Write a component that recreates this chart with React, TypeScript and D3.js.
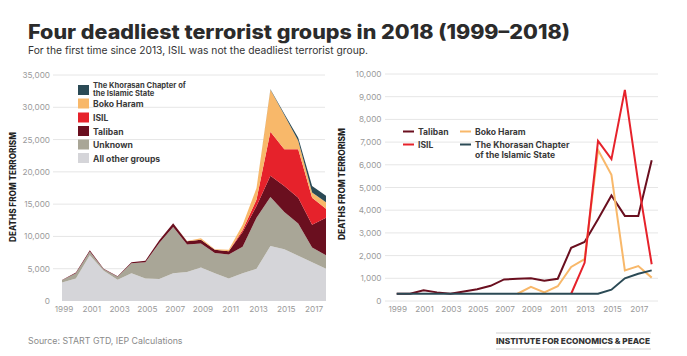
import React from 'react';
import * as d3 from 'd3';

const years = [1999, 2000, 2001, 2002, 2003, 2004, 2005, 2006, 2007, 2008, 2009, 2010, 2011, 2012, 2013, 2014, 2015, 2016, 2017, 2018];
const xTickYears = [1999, 2001, 2003, 2005, 2007, 2009, 2011, 2013, 2015, 2017];

// Left: stacked deaths by group
const allOtherL = [2850, 3500, 7100, 4700, 3300, 4300, 3500, 3400, 4300, 4500, 5200, 4300, 3500, 4300, 5000, 8500, 8000, 7000, 6000, 5000];
const unknownL = [350, 800, 550, 200, 450, 1550, 2500, 5600, 7150, 4250, 3700, 3150, 3700, 4100, 7900, 7600, 5800, 5000, 2300, 2100];
const talibanL = [50, 100, 200, 100, 100, 150, 250, 400, 600, 500, 600, 500, 500, 2300, 1800, 3300, 4000, 4000, 3500, 5800];
const isilL = [0, 0, 0, 0, 0, 0, 0, 0, 0, 0, 0, 0, 0, 300, 1000, 6800, 5700, 7500, 4200, 1400];
const bokoL = [0, 0, 0, 0, 0, 0, 0, 0, 0, 50, 200, 50, 250, 800, 1800, 6500, 5300, 1300, 800, 1000];
const khorasanL = [0, 0, 0, 0, 0, 0, 0, 0, 0, 0, 0, 0, 0, 0, 0, 100, 200, 500, 1000, 1000];
const leftTicks = [0, 5000, 10000, 15000, 20000, 25000, 30000, 35000];

// Right: lines per group
const talibanR = [320, 320, 470, 380, 320, 420, 520, 670, 950, 980, 1000, 890, 980, 2340, 2600, 3600, 4650, 3750, 3750, 6200];
const isilR = [null, null, null, null, null, null, null, null, null, null, null, null, null, 320, 1680, 7050, 6250, 9300, 5200, 1620];
const bokoR = [null, null, null, null, null, null, null, null, null, 320, 620, 380, 650, 1500, 1840, 6650, 5560, 1350, 1540, 1030];
const khorasanR = [320, 320, 320, 320, 320, 320, 320, 320, 320, 320, 320, 320, 320, 320, 320, 320, 500, 1000, 1200, 1350];
const rightTicks = [0, 1000, 2000, 3000, 4000, 5000, 6000, 7000, 8000, 9000, 10000];

const C = {
  khorasan: '#2b4a55',
  boko: '#f8b86a',
  isil: '#e6222b',
  taliban: '#6a0f1f',
  unknown: '#a9a697',
  allOther: '#d5d5d9',
};
const FONT = 'Inter, "Open Sans", sans-serif';
const fmt = d3.format(',');

export default function App() {
  const W = 687, H = 356;
  const xL = d3.scaleLinear().domain([1999, 2018]).range([62, 326]);
  const yL = d3.scaleLinear().domain([0, 35000]).range([301, 75]);
  const xR = d3.scaleLinear().domain([1999, 2018]).range([396.7, 651.7]);
  const yR = d3.scaleLinear().domain([0, 10000]).range([301, 74]);

  const keys = ['allOther', 'unknown', 'taliban', 'isil', 'boko', 'khorasan'];
  const table = years.map((y, i) => ({
    year: y,
    allOther: allOtherL[i], unknown: unknownL[i], taliban: talibanL[i],
    isil: isilL[i], boko: bokoL[i], khorasan: khorasanL[i],
  }));
  const stacked = d3.stack<any>().keys(keys)(table);
  const area = d3.area<any>()
    .x((d) => xL(d.data.year))
    .y0((d) => yL(d[0]))
    .y1((d) => yL(d[1]));

  const line = d3.line<any>()
    .defined((d) => d.v != null)
    .x((d) => xR(d.year))
    .y((d) => yR(d.v));
  const rightSeries = [
    { key: 'taliban', vals: talibanR },
    { key: 'boko', vals: bokoR },
    { key: 'isil', vals: isilR },
    { key: 'khorasan', vals: khorasanR },
  ];

  const leftLegend = [
    { key: 'boko', label: 'Boko Haram' },
    { key: 'isil', label: 'ISIL' },
    { key: 'taliban', label: 'Taliban' },
    { key: 'unknown', label: 'Unknown' },
    { key: 'allOther', label: 'All other groups' },
  ];
  const leftLegendY = [103.5, 117.5, 131, 144.5, 158];

  const tickStyle = { fontFamily: FONT, fontSize: 8.2, fill: '#9a9a9a' } as const;
  const legStyle = { fontFamily: FONT, fontSize: 8.6, fontWeight: 700, fill: '#3a3a3a' } as const;

  return (
    <svg width={W} height={H} style={{ position: 'absolute', left: 0, top: 0, background: '#fff' }}>
      <text x={28} y={39} textLength={542} lengthAdjust="spacingAndGlyphs"
        style={{ fontFamily: FONT, fontSize: 19.5, fontWeight: 800, fill: '#2b2b2b' }}>
        Four deadliest terrorist groups in 2018 (1999–2018)
      </text>
      <text x={28} y={54} textLength={340} lengthAdjust="spacingAndGlyphs"
        style={{ fontFamily: FONT, fontSize: 10.5, fill: '#333' }}>
        For the first time since 2013, ISIL was not the deadliest terrorist group.
      </text>

      {/* Left chart */}
      {leftTicks.map((t) => (
        <g key={'lt' + t}>
          {t > 0 && <line x1={53} x2={325} y1={yL(t)} y2={yL(t)} stroke="#e6e6e6" strokeWidth={1} />}
          <text x={50} y={yL(t) + 3} textAnchor="end" style={tickStyle}>{fmt(t)}</text>
        </g>
      ))}
      {stacked.map((s) => (
        <path key={s.key} d={area(s) as string} fill={(C as any)[s.key]} />
      ))}
      {xTickYears.map((y) => (
        <text key={'lx' + y} x={xL(y) + 2} y={312} textAnchor="middle" style={tickStyle}>{y}</text>
      ))}
      <text transform={`translate(16,187) rotate(-90)`} textAnchor="middle" textLength={110} lengthAdjust="spacingAndGlyphs"
        style={{ fontFamily: FONT, fontSize: 8.4, fontWeight: 800, fill: '#222' }}>DEATHS FROM TERRORISM</text>
      {/* Left legend */}
      <rect x={78} y={85} width={11} height={10} fill={C.khorasan} />
      <text x={93} y={88} style={{ ...legStyle, fontSize: 7.6 }}>The Khorasan Chapter of</text>
      <text x={93} y={96} style={{ ...legStyle, fontSize: 7.6 }}> the Islamic State</text>
      {leftLegend.map((l, i) => (
        <g key={'ll' + l.key}>
          <rect x={78} y={leftLegendY[i] - 5} width={11} height={10} fill={(C as any)[l.key]} />
          <text x={93} y={leftLegendY[i] + 3.5} style={legStyle}>{l.label}</text>
        </g>
      ))}

      {/* Right chart */}
      {rightTicks.map((t) => (
        <g key={'rt' + t}>
          <line x1={385} x2={658} y1={yR(t)} y2={yR(t)} stroke="#e6e6e6" strokeWidth={1} />
          <text x={381.5} y={yR(t) + 3} textAnchor="end" style={tickStyle}>{fmt(t)}</text>
        </g>
      ))}
      {rightSeries.map((s) => (
        <path key={'rl' + s.key}
          d={line(years.map((y, i) => ({ year: y, v: s.vals[i] }))) as string}
          fill="none" stroke={(C as any)[s.key]} strokeWidth={2} strokeLinejoin="miter" />
      ))}
      {xTickYears.map((y) => (
        <text key={'rx' + y} x={xR(y) + 1} y={312} textAnchor="middle" style={tickStyle}>{y}</text>
      ))}
      <text transform={`translate(345,184) rotate(-90)`} textAnchor="middle" textLength={112} lengthAdjust="spacingAndGlyphs"
        style={{ fontFamily: FONT, fontSize: 8.4, fontWeight: 800, fill: '#222' }}>DEATHS FROM TERRORISM</text>
      {/* Right legend */}
      <line x1={403} x2={414} y1={131.5} y2={131.5} stroke={C.taliban} strokeWidth={2} />
      <text x={418} y={134.5} style={legStyle}>Taliban</text>
      <line x1={460} x2={471} y1={131.5} y2={131.5} stroke={C.boko} strokeWidth={2} />
      <text x={475} y={134.5} style={legStyle}>Boko Haram</text>
      <line x1={403} x2={414} y1={144.5} y2={144.5} stroke={C.isil} strokeWidth={2} />
      <text x={418} y={147.5} style={legStyle}>ISIL</text>
      <line x1={460} x2={471} y1={144.5} y2={144.5} stroke={C.khorasan} strokeWidth={2} />
      <text x={475} y={147.5} style={legStyle}>The Khorasan Chapter</text>
      <text x={475} y={157.5} style={legStyle}>of the Islamic State</text>

      {/* Footer */}
      <text x={28} y={344} style={{ fontFamily: FONT, fontSize: 8.8, fill: '#8a8a8a' }}>Source: START GTD, IEP Calculations</text>
      <line x1={496} x2={651} y1={333} y2={333} stroke="#cfcfcf" strokeWidth={1} />
      <line x1={496} x2={651} y1={349} y2={349} stroke="#cfcfcf" strokeWidth={1} />
      <text x={496} y={344} textLength={154} lengthAdjust="spacingAndGlyphs"
        style={{ fontFamily: FONT, fontSize: 8.2, fontWeight: 800, fill: '#333' }}>INSTITUTE FOR ECONOMICS &amp; PEACE</text>
    </svg>
  );
}
